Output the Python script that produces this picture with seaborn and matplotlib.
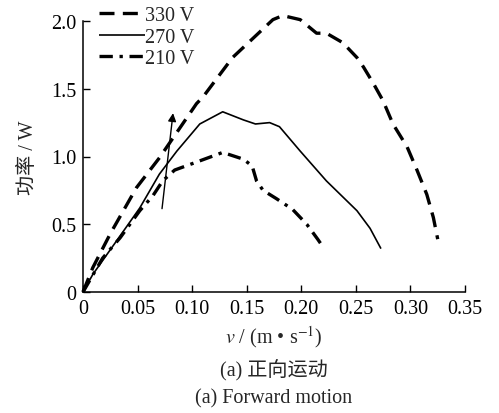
import matplotlib
matplotlib.use("Agg")
import matplotlib.pyplot as plt
import seaborn as sns
import pandas as pd

# ---- data ----
v330 = [0, 0.009, 0.025, 0.049, 0.070, 0.104, 0.110, 0.137, 0.174, 0.183, 0.199, 0.214,
        0.223, 0.238, 0.251, 0.257, 0.266, 0.275, 0.284, 0.297, 0.306, 0.315, 0.321, 0.325]
p330 = [0, 0.18, 0.43, 0.77, 0.99, 1.39, 1.44, 1.73, 2.01, 2.04, 2.01, 1.91,
        1.91, 1.84, 1.73, 1.66, 1.54, 1.41, 1.24, 1.07, 0.90, 0.72, 0.55, 0.39]
v270 = [0, 0.009, 0.031, 0.052, 0.070, 0.086, 0.107, 0.128, 0.147, 0.158, 0.171, 0.180,
        0.199, 0.223, 0.251, 0.263, 0.273]
p270 = [0, 0.13, 0.38, 0.62, 0.87, 1.04, 1.24, 1.33, 1.27, 1.24, 1.25, 1.22,
        1.04, 0.82, 0.60, 0.47, 0.32]
v210 = [0, 0.018, 0.034, 0.052, 0.064, 0.073, 0.084, 0.101, 0.128, 0.147, 0.155, 0.159,
        0.165, 0.177, 0.192, 0.205, 0.215, 0.221]
p210 = [0, 0.25, 0.40, 0.60, 0.71, 0.82, 0.90, 0.95, 1.03, 0.98, 0.93, 0.82,
        0.75, 0.69, 0.61, 0.50, 0.39, 0.32]
series_labels = ["330 V", "270 V", "210 V"]
arrow_start = (0.0724, 0.615)
arrow_end = (0.0825, 1.32)
x_ticks = [0, 0.05, 0.10, 0.15, 0.20, 0.25, 0.30, 0.35]
x_tick_labels = ["0", "0.05", "0.10", "0.15", "0.20", "0.25", "0.30", "0.35"]
y_ticks = [0, 0.5, 1.0, 1.5, 2.0]
y_tick_labels = ["0", "0.5", "1.0", "1.5", "2.0"]
x_label = "$v$ / (m • s$^{-1}$)"
y_label = "功率 / W"
caption_cn = "(a) 正向运动"
caption_en = "(a) Forward motion"

sns.set_style("ticks")
plt.rcParams["font.family"] = ["Liberation Serif", "Noto Sans CJK SC"]
plt.rcParams["mathtext.fontset"] = "stix"

FS = 14.5
fig = plt.figure(figsize=(4.99, 4.14), dpi=100)
ax = fig.add_axes([83 / 499, 1 - 293 / 414, 382 / 499, 271 / 414])

styles = [
    dict(lw=2.4, dashes=(4.5, 2.5)),
    dict(lw=1.2, dashes=()),
    dict(lw=2.4, dashes=(4.0, 2.0, 1.0, 2.0)),
]
data = [(v330, p330), (v270, p270), (v210, p210)]
handles = []
for (xs, ys), lab, st in zip(data, series_labels, styles):
    df = pd.DataFrame({"v": xs, "p": ys})
    sns.lineplot(data=df, x="v", y="p", ax=ax, sort=False, estimator=None,
                 color="black", lw=st["lw"], label=lab)
    line = ax.lines[-1]
    if st["dashes"]:
        line.set_dashes(st["dashes"])
    line.set_clip_on(False)
    line.set_solid_capstyle("butt")
    line.set_dash_capstyle("butt")
    handles.append(line)

ax.annotate("", xy=arrow_end, xytext=arrow_start,
            arrowprops=dict(arrowstyle="-|>", lw=1.0, color="black", mutation_scale=12,
                            shrinkA=0, shrinkB=0))

ax.set_xlim(0, 0.35)
ax.set_ylim(0, 2.0)
ax.set_xticks(x_ticks)
ax.set_xticklabels(x_tick_labels)
ax.set_yticks(y_ticks)
ax.set_yticklabels(y_tick_labels)
ax.tick_params(direction="in", length=5, width=1.0, labelsize=FS, colors="black", pad=5)
for s in ["top", "right"]:
    ax.spines[s].set_visible(False)
for s in ["left", "bottom"]:
    ax.spines[s].set_linewidth(1.1)
    ax.spines[s].set_color("black")

ax.set_xlabel(x_label, fontsize=FS, labelpad=4)
ax.set_ylabel(y_label, fontsize=FS, labelpad=9)

leg = ax.legend(handles=handles, labels=series_labels, loc="upper left",
                bbox_to_anchor=(99 / 499, 1 - 7 / 414), bbox_transform=fig.transFigure,
                frameon=False, fontsize=FS, handlelength=2.3, handletextpad=0.0,
                labelspacing=0.12, borderpad=0, borderaxespad=0)

fig.text(274 / 499, 1 - 371 / 414, caption_cn, ha="center", va="center", fontsize=FS)
fig.text(274 / 499, 1 - 399 / 414, caption_en, ha="center", va="center", fontsize=FS)

fig.savefig("out.png", dpi=100)
